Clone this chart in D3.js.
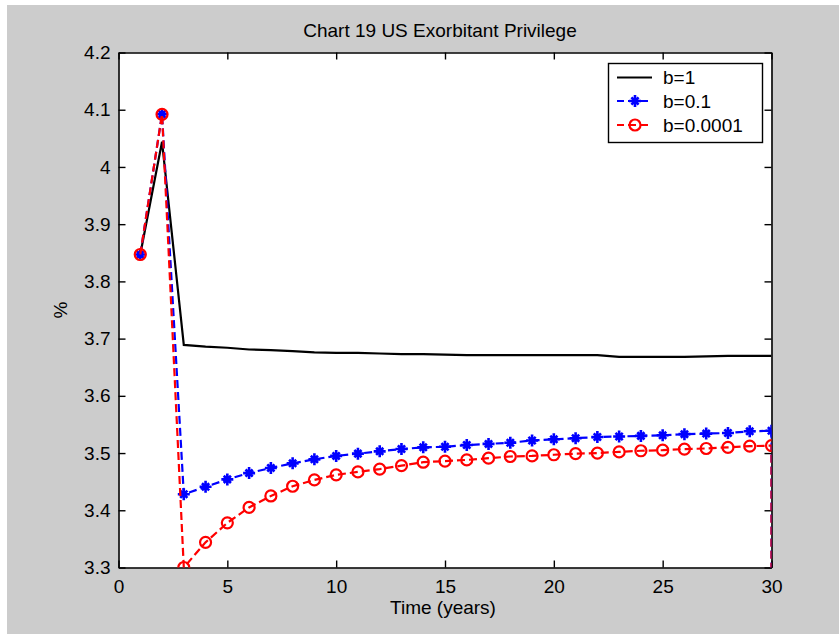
<!DOCTYPE html>
<html>
<head>
<meta charset="utf-8">
<script src="https://cdn.jsdelivr.net/npm/d3@7"></script>
<style>
  html, body { margin: 0; padding: 0; background: #ffffff; }
  svg { display: block; }
  text { font-family: "Liberation Sans", Arial, sans-serif; fill: #000; }
</style>
</head>
<body>
<svg id="chart" width="839" height="634"></svg>
<script>
// ---------------- data ----------------
const title = "Chart 19 US Exorbitant Privilege";
const xLabel = "Time (years)";
const yLabel = "%";
const years = [1,2,3,4,5,6,7,8,9,10,11,12,13,14,15,16,17,18,19,20,21,22,23,24,25,26,27,28,29,30];
const seriesNames = ["b=1", "b=0.1", "b=0.0001"];
const valuesB1 = [3.847, 4.044, 3.689, 3.686, 3.684, 3.681, 3.680, 3.678, 3.676, 3.675,
                  3.675, 3.674, 3.673, 3.673, 3.672, 3.671, 3.671, 3.671, 3.671, 3.671,
                  3.671, 3.671, 3.668, 3.668, 3.668, 3.668, 3.669, 3.670, 3.670, 3.670];
const valuesB01 = [3.847, 4.092, 3.428, 3.441, 3.454, 3.465, 3.474, 3.482, 3.489, 3.495,
                   3.499, 3.503, 3.507, 3.510, 3.511, 3.514, 3.516, 3.518, 3.522, 3.524,
                   3.526, 3.528, 3.529, 3.530, 3.531, 3.533, 3.534, 3.535, 3.538, 3.539];
const valuesB00001 = [3.847, 4.092, 3.300, 3.344, 3.378, 3.405, 3.425, 3.442, 3.453, 3.462,
                      3.467, 3.472, 3.478, 3.484, 3.486, 3.488, 3.491, 3.494, 3.495, 3.497,
                      3.499, 3.500, 3.502, 3.504, 3.505, 3.507, 3.508, 3.510, 3.512, 3.513];
// trailing point at the last year that falls off the bottom of the axes
const tailYear = 30;
const tailValue = 0;
const xTicks = [0, 5, 10, 15, 20, 25, 30];
const yTicks = [3.3, 3.4, 3.5, 3.6, 3.7, 3.8, 3.9, 4.0, 4.1, 4.2];
const yTickLabels = ["3.3", "3.4", "3.5", "3.6", "3.7", "3.8", "3.9", "4", "4.1", "4.2"];
const seriesColors = ["#000000", "#0000ff", "#ff0000"];

// ---------------- layout ----------------
const W = 839, H = 634;
const L = 118.5, R = 771.5, T = 52.5, B = 567.5;
const svg = d3.select("#chart");

svg.append("rect").attr("x", 0).attr("y", 0).attr("width", W).attr("height", H).attr("fill", "#ffffff");
svg.append("rect").attr("x", 7).attr("y", 5).attr("width", W - 7).attr("height", H - 5).attr("fill", "#cccccc");

const x = d3.scaleLinear().domain([0, 30]).range([L, R]);
const y = d3.scaleLinear().domain([3.3, 4.2]).range([B, T]);

// axes background
svg.append("rect").attr("x", L).attr("y", T).attr("width", R - L).attr("height", B - T).attr("fill", "#ffffff");

svg.append("defs").append("clipPath").attr("id", "plotclip")
  .append("rect").attr("x", L).attr("y", T).attr("width", R - L).attr("height", B - T);

const tickLen = 7;
const fs = 19;
const textCol = "#222";

// bottom axis
const axB = svg.append("g").attr("transform", `translate(0,${B})`)
  .call(d3.axisBottom(x).tickValues(xTicks).tickSizeInner(-tickLen).tickSizeOuter(0).tickPadding(12).tickFormat(d3.format("d")));
// top axis
const axT = svg.append("g").attr("transform", `translate(0,${T})`)
  .call(d3.axisTop(x).tickValues(xTicks).tickSizeInner(-tickLen).tickSizeOuter(0).tickFormat(""));
// left axis
const axL = svg.append("g").attr("transform", `translate(${L},0)`)
  .call(d3.axisLeft(y).tickValues(yTicks).tickSizeInner(-tickLen).tickSizeOuter(0).tickPadding(8)
        .tickFormat((d, i) => yTickLabels[i]));
// right axis
const axR = svg.append("g").attr("transform", `translate(${R},0)`)
  .call(d3.axisRight(y).tickValues(yTicks).tickSizeInner(-tickLen).tickSizeOuter(0).tickFormat(""));

[axB, axT, axL, axR].forEach(g => {
  g.select(".domain").attr("stroke", "#000").attr("stroke-width", 1.6);
  g.selectAll(".tick line").attr("stroke", "#000").attr("stroke-width", 1.4);
  g.selectAll(".tick text").attr("font-size", fs).attr("font-family", "Liberation Sans, Arial, sans-serif").attr("fill", textCol);
});
axB.selectAll(".tick text").attr("dy", "0.71em");

// ---------------- series ----------------
const line = d3.line().x(d => x(d[0])).y(d => y(d[1]));
const plot = svg.append("g").attr("clip-path", "url(#plotclip)");

const ptsB1 = years.map((t, i) => [t, valuesB1[i]]);
const ptsB01 = years.map((t, i) => [t, valuesB01[i]]).concat([[tailYear, tailValue]]);
const ptsB00001 = years.map((t, i) => [t, valuesB00001[i]]).concat([[tailYear, tailValue]]);

plot.append("path").datum(ptsB1).attr("d", line)
  .attr("fill", "none").attr("stroke", seriesColors[0]).attr("stroke-width", 2.2);

function starPath(cx, cy, s) {
  const d = s * 0.6;
  return `M${cx - s},${cy}L${cx + s},${cy}M${cx},${cy - s}L${cx},${cy + s}` +
         `M${cx - d},${cy - d}L${cx + d},${cy + d}M${cx - d},${cy + d}L${cx + d},${cy - d}`;
}

plot.append("path").datum(ptsB01).attr("d", line)
  .attr("fill", "none").attr("stroke", seriesColors[1]).attr("stroke-width", 2.2)
  .attr("stroke-dasharray", "8,4");
plot.append("g").selectAll("path").data(ptsB01).join("path")
  .attr("d", d => starPath(x(d[0]), y(d[1]), 6))
  .attr("stroke", seriesColors[1]).attr("stroke-width", 2.6).attr("fill", "none");

plot.append("path").datum(ptsB00001).attr("d", line)
  .attr("fill", "none").attr("stroke", seriesColors[2]).attr("stroke-width", 2.2)
  .attr("stroke-dasharray", "8,4");
plot.append("g").selectAll("circle").data(ptsB00001).join("circle")
  .attr("cx", d => x(d[0])).attr("cy", d => y(d[1])).attr("r", 5.5)
  .attr("stroke", seriesColors[2]).attr("stroke-width", 2.2).attr("fill", "none");

// ---------------- texts ----------------
svg.append("text").attr("x", 440).attr("y", 37).attr("text-anchor", "middle")
  .attr("font-size", fs).attr("fill", textCol).text(title);
svg.append("text").attr("x", 443).attr("y", 614).attr("text-anchor", "middle")
  .attr("font-size", fs).attr("fill", textCol).text(xLabel);
svg.append("text").attr("transform", `translate(67,${(T + B) / 2}) rotate(-90)`)
  .attr("text-anchor", "middle").attr("font-size", fs).attr("fill", textCol).text(yLabel);

// ---------------- legend ----------------
const lg = svg.append("g");
lg.append("rect").attr("x", 608.5).attr("y", 63.5).attr("width", 154).attr("height", 79)
  .attr("fill", "#ffffff").attr("stroke", "#000").attr("stroke-width", 1.4);
const rowsY = [77.5, 101, 125];
seriesNames.forEach((name, i) => {
  const yy = rowsY[i];
  const seg = lg.append("line").attr("x1", 617).attr("x2", 652).attr("y1", yy).attr("y2", yy)
    .attr("stroke", seriesColors[i]).attr("stroke-width", 2.2);
  if (i > 0) seg.attr("stroke-dasharray", "8,4").attr("stroke-dashoffset", 1);
  if (i === 1) lg.append("path").attr("d", starPath(635, yy, 6)).attr("stroke", seriesColors[i]).attr("stroke-width", 2.6);
  if (i === 2) lg.append("circle").attr("cx", 635).attr("cy", yy).attr("r", 5.5).attr("fill", "none")
    .attr("stroke", seriesColors[i]).attr("stroke-width", 2.2);
  lg.append("text").attr("x", 663).attr("y", yy).attr("dy", "0.36em").attr("font-size", fs)
    .attr("fill", textCol).text(name);
});
</script>
</body>
</html>
